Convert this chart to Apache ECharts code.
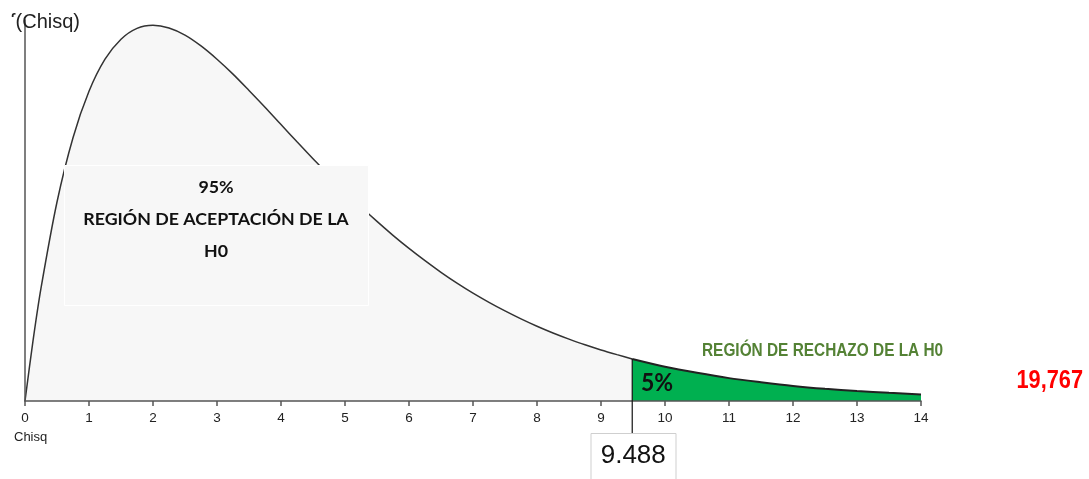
<!DOCTYPE html>
<html>
<head>
<meta charset="utf-8">
<script src="https://cdn.jsdelivr.net/npm/echarts@6/dist/echarts.min.js"></script>
<style>html,body{margin:0;padding:0;background:#fff;}#c{width:1089px;height:479px;}</style>
</head>
<body>
<div id="c"></div>
<script>
// Values (chi-square density curve)
const acceptX = [0, 0.125, 0.25, 0.5, 0.75, 1, 1.25, 1.5, 1.75, 2, 2.25, 2.5, 2.75, 3, 3.25, 3.5, 3.75, 4, 4.25, 4.5, 4.75, 5, 5.25, 5.5, 5.75, 6, 6.25, 6.5, 6.75, 7, 7.25, 7.5, 7.75, 8, 8.25, 8.5, 8.75, 9, 9.25, 9.488];
const acceptY = [0, 0.0294, 0.0552, 0.0974, 0.1289, 0.1516, 0.1673, 0.1771, 0.1824, 0.1839, 0.1826, 0.1791, 0.1738, 0.1673, 0.1600, 0.1520, 0.1438, 0.1353, 0.1269, 0.1186, 0.1104, 0.1026, 0.0951, 0.0879, 0.0811, 0.0747, 0.0687, 0.0630, 0.0577, 0.0528, 0.0483, 0.0441, 0.0402, 0.0366, 0.0333, 0.0303, 0.0275, 0.0250, 0.0227, 0.0206];
const rejectX = [9.488, 10, 10.5, 11, 11.5, 12, 12.5, 13, 13.5, 14];
const rejectY = [0.0206, 0.0168, 0.0138, 0.0112, 0.0092, 0.0074, 0.0060, 0.0049, 0.0040, 0.0032];
const criticalValue = 9.488;
const criticalLabel = '9.488';
const axisName = 'Chisq';
const yName = 'f(Chisq)';
const acceptText = '95%\nREGIÓN DE ACEPTACIÓN DE LA\nH0';
const rejectPct = '5%';
const rejectText = 'REGIÓN DE RECHAZO DE LA H0';
const sideValue = '19,767';

const sans = '"Liberation Sans", Arial, sans-serif';
const chart = echarts.init(document.getElementById('c'), null, {renderer: 'canvas'});
const zip = (xs, ys) => xs.map((x, i) => [x, ys[i]]);

chart.setOption({
  animation: false,
  backgroundColor: '#ffffff',
  grid: {left: 25, right: 168, top: 20, bottom: 78},
  xAxis: {
    type: 'value', min: 0, max: 14, interval: 1, z: 10,
    axisLine: {lineStyle: {color: '#555', width: 1.5}},
    axisTick: {length: 5, lineStyle: {color: '#555', width: 1.5}},
    axisLabel: {color: '#222', fontSize: 13.5, fontFamily: sans, margin: 10},
    splitLine: {show: false}
  },
  yAxis: {
    type: 'value', min: 0, max: 0.1865, z: 10,
    axisLine: {show: true, onZero: false, lineStyle: {color: '#555', width: 1.5}},
    axisTick: {show: false}, axisLabel: {show: false}, splitLine: {show: false}
  },
  series: [
    {
      type: 'line', data: zip(acceptX, acceptY), smooth: 0.3, symbol: 'none',
      lineStyle: {color: '#333', width: 1.5},
      areaStyle: {color: '#f7f7f7', opacity: 1}
    },
    {
      type: 'line', data: zip(rejectX, rejectY), smooth: 0.3, symbol: 'none',
      lineStyle: {color: '#222', width: 2},
      areaStyle: {color: '#00b050', opacity: 1}
    }
  ]
});

const critPt = chart.convertToPixel({gridIndex: 0}, [criticalValue, rejectY[0]]);
const cx = critPt[0];

chart.setOption({
  graphic: [
    {type: 'line', z: 100, shape: {x1: cx, y1: critPt[1], x2: cx, y2: 433}, style: {stroke: '#111', lineWidth: 1.2}},
    {type: 'rect', z: 100, shape: {x: 591, y: 433.5, width: 85, height: 50}, style: {fill: '#fff', stroke: '#cfcfcf', lineWidth: 1}},
    {type: 'text', z: 101, x: cx + 1, y: 456, style: {text: criticalLabel, fill: '#111', font: '26px ' + sans, align: 'center', verticalAlign: 'middle'}},
    {type: 'rect', z: 100, shape: {x: 64.5, y: 165.5, width: 304, height: 140}, style: {fill: '#f7f7f7', stroke: '#ffffff', lineWidth: 1}},
    {type: 'text', z: 101, x: 216, y: 219, style: {text: acceptText, fill: '#111', font: 'bold 17.8px Lato, sans-serif', align: 'center', verticalAlign: 'middle', lineHeight: 32}},
    {type: 'text', z: 101, x: 641, y: 383, scaleY: 1.1, style: {text: rejectPct, fill: '#111', font: 'bold 23px Lato, sans-serif', align: 'left', verticalAlign: 'middle'}},
    {type: 'text', z: 101, x: 702, y: 351, scaleX: 0.855, style: {text: rejectText, fill: '#548235', font: 'bold 18px ' + sans, align: 'left', verticalAlign: 'middle'}},
    {type: 'text', z: 101, x: 1083, y: 381, scaleX: 0.87, style: {text: sideValue, fill: '#ff0000', font: 'bold 25px ' + sans, align: 'right', verticalAlign: 'middle'}},
    {type: 'text', z: 101, x: 14, y: 437, style: {text: axisName, fill: '#222', font: '13px ' + sans, align: 'left', verticalAlign: 'middle'}},
    {type: 'text', z: 101, x: 80, y: 22, style: {text: yName, fill: '#222', font: '20px ' + sans, align: 'right', verticalAlign: 'middle'}},
    {type: 'rect', z: 102, shape: {x: 0, y: 17, width: 16, height: 20}, style: {fill: '#fff'}}
  ]
});
</script>
</body>
</html>
